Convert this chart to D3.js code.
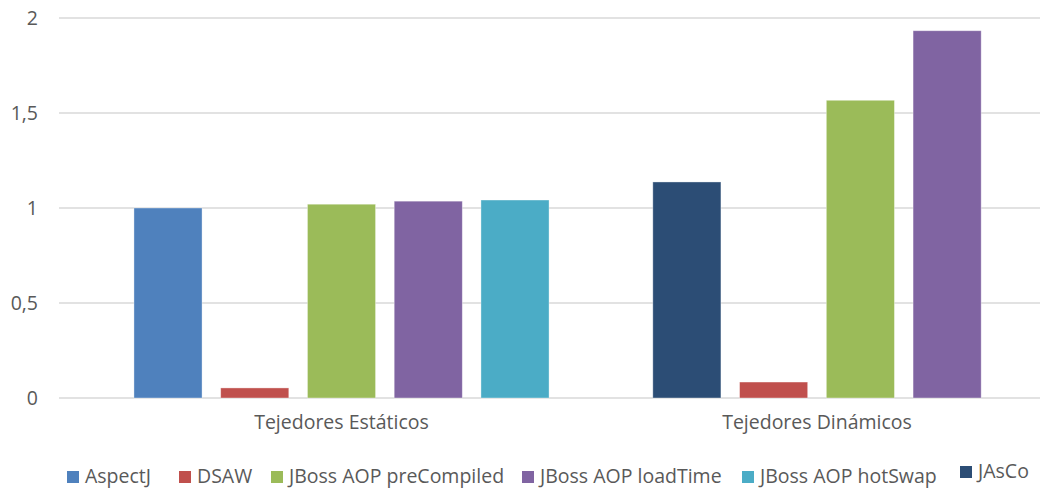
<html>
  <head>
    <script src="https://cdn.jsdelivr.net/npm/d3@7"></script>
    <meta charset="UTF-8">
    <style>
      body { margin: 0; background: #fff; }
      text { font-family: "Open Sans", "Noto Sans", sans-serif; fill: #595959; }
    </style>
  </head>
  <body>
    <svg id="chart" width="1044" height="488"></svg>
    <script>
      // datos
      var categories = ["Tejedores Estáticos", "Tejedores Dinámicos"];
      var seriesNames = ["AspectJ", "DSAW", "JBoss AOP preCompiled", "JBoss AOP loadTime", "JBoss AOP hotSwap", "JAsCo"];
      var seriesColors = ["#4F81BD", "#C0504D", "#9BBB59", "#8064A2", "#4BACC6", "#2C4D75"];
      // orden de las barras en cada grupo
      var staticSeries = ["AspectJ", "DSAW", "JBoss AOP preCompiled", "JBoss AOP loadTime", "JBoss AOP hotSwap"];
      var staticValues = [1.0, 0.053, 1.02, 1.036, 1.042];
      var dynamicSeries = ["JAsCo", "DSAW", "JBoss AOP preCompiled", "JBoss AOP loadTime"];
      var dynamicValues = [1.137, 0.084, 1.567, 1.933];
      var yTicks = [0, 0.5, 1, 1.5, 2];
      var yTickLabels = ["0", "0,5", "1", "1,5", "2"];

      var groups = [
        { cat: categories[0], series: staticSeries, values: staticValues },
        { cat: categories[1], series: dynamicSeries, values: dynamicValues }
      ];

      var svg = d3.select("#chart");
      var plotLeft = 59, plotRight = 1040, plotTop = 18, plotBottom = 398;
      var step = 86.75;
      var fontSize = "19.5px";

      var y = d3.scaleLinear().domain([0, 2]).range([plotBottom, plotTop]);
      var x0 = d3.scalePoint().domain(categories).range([341.5, 817]);
      var color = d3.scaleOrdinal().domain(seriesNames).range(seriesColors);

      // lineas de la cuadricula
      svg.append("g")
        .selectAll("line")
        .data(yTicks)
        .enter()
        .append("line")
        .attr("x1", plotLeft)
        .attr("x2", plotRight)
        .attr("y1", d => y(d))
        .attr("y2", d => y(d))
        .attr("stroke", "#d9d9d9")
        .attr("stroke-width", 1.5);

      svg.append("g")
        .selectAll("text")
        .data(yTicks)
        .enter()
        .append("text")
        .attr("x", 38)
        .attr("y", d => y(d) + 7)
        .attr("text-anchor", "end")
        .style("font-size", fontSize)
        .text((d, i) => yTickLabels[i]);

      groups.forEach(function(g) {
        var n = g.series.length;
        var c = x0(g.cat);
        var x1 = d3.scaleBand()
          .domain(d3.range(n))
          .range([c - n * step / 2, c + n * step / 2])
          .paddingInner(0.215)
          .paddingOuter(0.1075);

        svg.append("g")
          .selectAll("rect")
          .data(g.values)
          .enter()
          .append("rect")
          .attr("x", (d, i) => x1(i))
          .attr("y", d => y(d))
          .attr("width", x1.bandwidth())
          .attr("height", d => plotBottom - y(d))
          .attr("fill", (d, i) => color(g.series[i]))
          .attr("stroke", "rgba(255,255,255,0.45)")
          .attr("stroke-width", 0.8);

        svg.append("text")
          .attr("x", c)
          .attr("y", 429)
          .attr("text-anchor", "middle")
          .style("font-size", fontSize)
          .text(g.cat);
      });

      // leyenda
      var legendX = [67, 179, 271, 522, 742, 960];
      var legendY = [471, 471, 471, 471, 471, 466];
      var legend = svg.append("g")
        .selectAll("g")
        .data(seriesNames)
        .enter()
        .append("g")
        .attr("transform", (d, i) => "translate(" + legendX[i] + "," + legendY[i] + ")");

      legend.append("rect")
        .attr("width", 12)
        .attr("height", 12)
        .attr("fill", d => color(d));

      legend.append("text")
        .attr("x", 18)
        .attr("y", 11.5)
        .style("font-size", fontSize)
        .text(d => d);
    </script>
  </body>
</html>
